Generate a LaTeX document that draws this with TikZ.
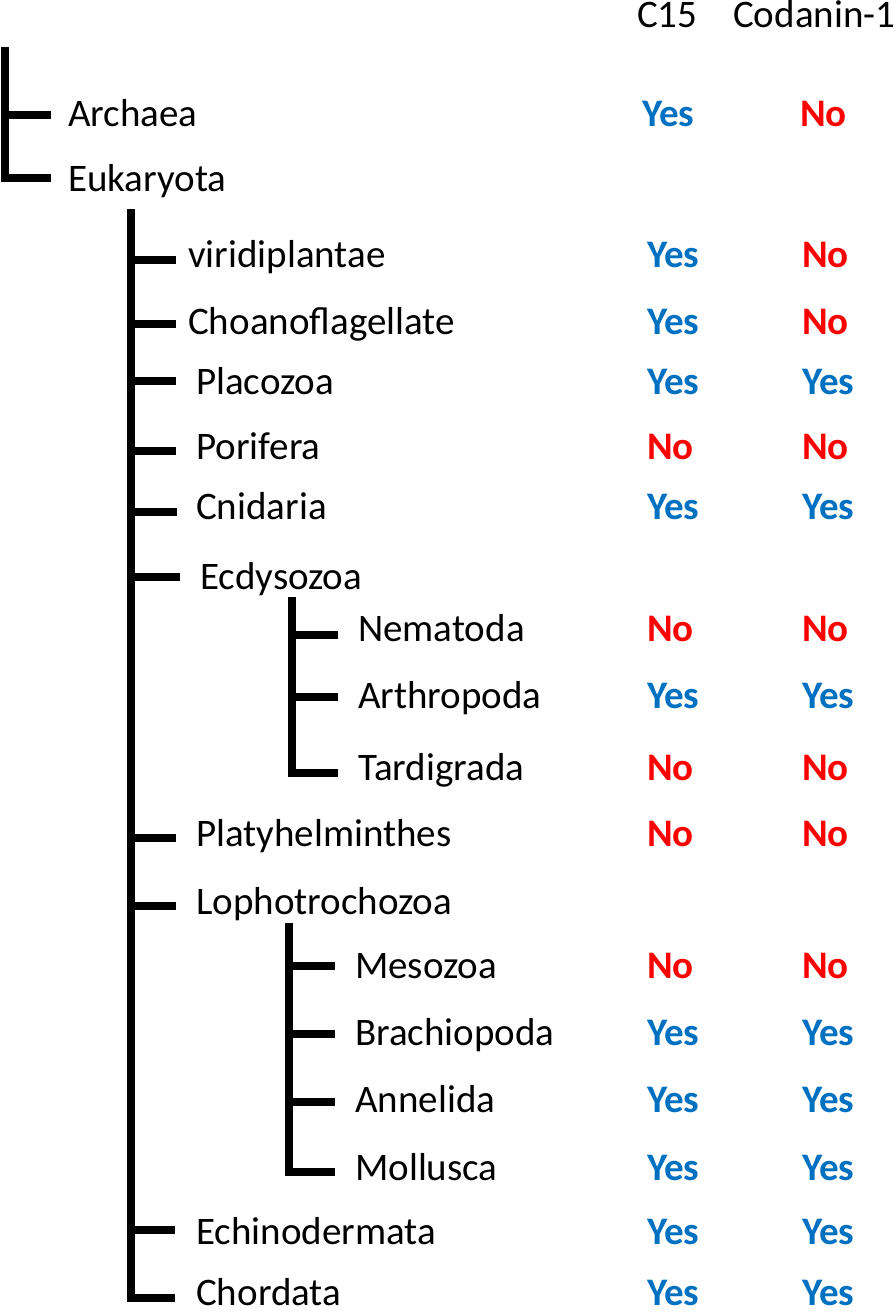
\documentclass[tikz,border=0pt]{standalone}
\usepackage{fontspec}
\setmainfont{Carlito}
\definecolor{yesblue}{HTML}{0070C0}
\definecolor{nored}{HTML}{FF0000}
\begin{document}
\begin{tikzpicture}[x=1pt,y=-1pt,
  lbl/.style={anchor=base west, inner sep=0pt, font=\fontsize{39}{46}\selectfont},
  yescell/.style={lbl, text=yesblue, font=\fontsize{39}{46}\selectfont\bfseries},
  nocell/.style={lbl, text=nored, font=\fontsize{39}{46}\selectfont\bfseries},
  branch/.style={line width=8pt, line cap=butt, line join=miter}]
\useasboundingbox (0,0) rectangle (896,1316);

% header
\node[lbl] (hC15) at (637,28) {C15};
\node[lbl] (hCod) at (733,28) {Codanin-1};

% labels
\node[lbl] (arch) at (68,127) {Archaea};
\node[lbl] (euk)  at (68,192) {Eukaryota};
\node[lbl] (viri) at (188,267) {viridiplantae};
\node[lbl] (choa) at (188,334) {Choanoflagellate};
\node[lbl] (plac) at (196,394) {Placozoa};
\node[lbl] (pori) at (196,459) {Porifera};
\node[lbl] (cnid) at (196,519) {Cnidaria};
\node[lbl] (ecdy) at (200,589) {Ecdysozoa};
\node[lbl] (nema) at (358,641) {Nematoda};
\node[lbl] (arth) at (358,708) {Arthropoda};
\node[lbl] (tard) at (358,780) {Tardigrada};
\node[lbl] (plat) at (196,846) {Platyhelminthes};
\node[lbl] (loph) at (196,914) {Lophotrochozoa};
\node[lbl] (meso) at (355,978) {Mesozoa};
\node[lbl] (brac) at (355,1045) {Brachiopoda};
\node[lbl] (anne) at (355,1112) {Annelida};
\node[lbl] (moll) at (355,1180) {Mollusca};
\node[lbl] (echi) at (196,1244) {Echinodermata};
\node[lbl] (chor) at (196,1305) {Chordata};

% C15 column
\node[yescell] (y-arch) at (642,127) {Yes};
\node[yescell] (y-viri) at (647,267) {Yes};
\node[yescell] (y-choa) at (647,334) {Yes};
\node[yescell] (y-plac) at (647,394) {Yes};
\node[nocell]  (y-pori) at (647,459) {No};
\node[yescell] (y-cnid) at (647,519) {Yes};
\node[nocell]  (y-nema) at (647,641) {No};
\node[yescell] (y-arth) at (647,708) {Yes};
\node[nocell]  (y-tard) at (647,780) {No};
\node[nocell]  (y-plat) at (647,846) {No};
\node[nocell]  (y-meso) at (647,978) {No};
\node[yescell] (y-brac) at (647,1045) {Yes};
\node[yescell] (y-anne) at (647,1112) {Yes};
\node[yescell] (y-moll) at (647,1180) {Yes};
\node[yescell] (y-echi) at (647,1244) {Yes};
\node[yescell] (y-chor) at (647,1305) {Yes};

% Codanin-1 column
\node[nocell]  (c-arch) at (800,127) {No};
\node[nocell]  (c-viri) at (802,267) {No};
\node[nocell]  (c-choa) at (802,334) {No};
\node[yescell] (c-plac) at (802,394) {Yes};
\node[nocell]  (c-pori) at (802,459) {No};
\node[yescell] (c-cnid) at (802,519) {Yes};
\node[nocell]  (c-nema) at (802,641) {No};
\node[yescell] (c-arth) at (802,708) {Yes};
\node[nocell]  (c-tard) at (802,780) {No};
\node[nocell]  (c-plat) at (802,846) {No};
\node[nocell]  (c-meso) at (802,978) {No};
\node[yescell] (c-brac) at (802,1045) {Yes};
\node[yescell] (c-anne) at (802,1112) {Yes};
\node[yescell] (c-moll) at (802,1180) {Yes};
\node[yescell] (c-echi) at (802,1244) {Yes};
\node[yescell] (c-chor) at (802,1305) {Yes};

% root clade
\coordinate (r-top) at (4.5,47);
\coordinate (b-arch) at (51,115);
\coordinate (b-euk) at (51,178);
\draw[branch] (r-top) |- (b-euk);
\draw[branch] (r-top |- b-arch) -- (b-arch);

% Eukaryota clade
\coordinate (e-top) at (131,209);
\coordinate (b-viri) at (176,260);
\coordinate (b-choa) at (176,324);
\coordinate (b-plac) at (176,381);
\coordinate (b-pori) at (176,451);
\coordinate (b-cnid) at (177,512);
\coordinate (b-ecdy) at (180,577);
\coordinate (b-plat) at (176,838);
\coordinate (b-loph) at (176,906);
\coordinate (b-echi) at (175,1230);
\coordinate (b-chor) at (175,1298);
\draw[branch] (e-top) |- (b-chor);
\foreach \b in {viri,choa,plac,pori,cnid,ecdy,plat,loph,echi}
  \draw[branch] (e-top |- b-\b) -- (b-\b);

% Ecdysozoa clade
\coordinate (d-top) at (292,597);
\coordinate (b-nema) at (338,635);
\coordinate (b-arth) at (338,697);
\coordinate (b-tard) at (338,773);
\draw[branch] (d-top) |- (b-tard);
\foreach \b in {nema,arth}
  \draw[branch] (d-top |- b-\b) -- (b-\b);

% Lophotrochozoa clade
\coordinate (l-top) at (289,923);
\coordinate (b-meso) at (335,966);
\coordinate (b-brac) at (335,1034);
\coordinate (b-anne) at (335,1102);
\coordinate (b-moll) at (335,1172);
\draw[branch] (l-top) |- (b-moll);
\foreach \b in {meso,brac,anne}
  \draw[branch] (l-top |- b-\b) -- (b-\b);
\end{tikzpicture}
\end{document}
